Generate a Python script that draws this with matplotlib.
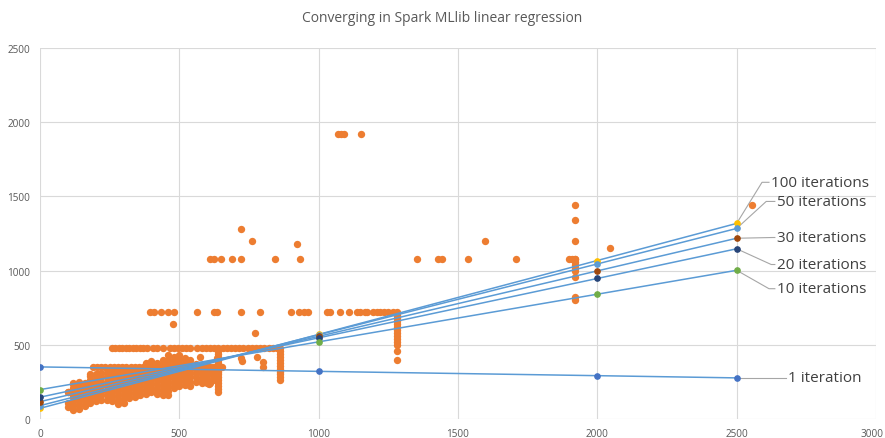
import numpy as np
import matplotlib
matplotlib.use("Agg")
import matplotlib.pyplot as plt
import matplotlib.transforms as mtransforms

plt.rcParams['font.family'] = ['Open Sans', 'DejaVu Sans']

# ---- model lines (predictions at a few x positions) ----
iter_x = [0, 1000, 2000, 2500]
iter_1 = [351, 321, 292, 277]
iter_10 = [198, 520, 841, 1002]
iter_20 = [147, 547, 947, 1147]
iter_30 = [117, 557, 998, 1218]
iter_50 = [90, 568, 1045, 1284]
iter_100 = [72, 570, 1068, 1318]

series_names = ["100 iterations", "50 iterations", "30 iterations",
                "20 iterations", "10 iterations", "1 iteration"]
series_vals = [iter_100, iter_50, iter_30, iter_20, iter_10, iter_1]
marker_cols = ["#FFC000", "#5B9BD5", "#9E480E", "#264478", "#70AD47", "#4472C4"]

# label positions (data coords) + leader elbow
label_pos = [(2624, 1595), (2645, 1466), (2645, 1223), (2645, 1041), (2645, 878), (2685, 277)]
elbow_pos = [(2591, 1595), (2606, 1466), (2630, 1223), (2624, 1041), (2616, 878), (2660, 277)]

# ---- training data (orange) ----
row_1920_x = [1070, 1080, 1090, 1152]
row_1080_x = [610, 625, 650, 689, 721, 843, 933, 1353, 1428, 1443, 1536, 1708, 1900, 1910, 1920]
row_720_x = [395, 410, 434, 459, 481, 563, 624, 635, 721, 790, 901, 930, 947, 962, 1030,
             1041, 1077, 1109, 1138, 1150, 1165, 1174, 1195, 1210, 1220, 1235, 1250, 1265, 1280]
row_480_x = [258, 270, 282, 295, 308, 320, 333, 345, 358, 370, 384, 405, 420, 441, 467, 480,
             495, 510, 525, 540, 565, 580, 595, 610, 625, 640, 655, 670, 685, 700, 715, 730,
             745, 760, 775, 790, 805, 820, 835, 850, 861]
row_350_x = [190, 205, 220, 235, 250, 265, 280, 295, 310, 325, 340, 355, 370, 385, 400, 415,
             430, 445, 460, 475, 490, 505, 520, 535, 550, 565, 580, 595, 610, 625, 640, 653]
col_1920_y = [1440, 1340, 1200, 1080, 1060, 1040, 1020, 1000, 960, 820, 800]
col_1280_y = [700, 680, 660, 640, 620, 600, 580, 560, 540, 520, 500, 460, 400]
col_861_y = [460, 440, 420, 400, 380, 360, 340, 320, 300, 280, 260]
col_639_y = [460, 440, 420, 400, 380, 360, 340, 320, 300, 280, 260, 240, 220, 200, 180]
loose_x = [721, 761, 922, 1597, 2046, 2555, 477, 771, 574, 635, 721, 725, 779, 800, 800,
           606, 610, 118, 179, 208, 100, 115]
loose_y = [1280, 1200, 1180, 1200, 1150, 1440, 640, 580, 420, 412, 412, 390, 420, 385, 351,
           236, 243, 236, 304, 304, 180, 176]

blob_cols = [100, 120, 140, 160, 180, 200, 220, 240, 260, 280, 300, 320, 340, 360,
             380, 400, 420, 440, 460, 480, 500, 520, 540, 560, 580, 600, 620]
blob_ys = [
    [80, 110, 180],
    [60, 90, 120, 150, 180, 210, 240],
    [70, 100, 130, 160, 190, 220, 250],
    [90, 120, 150, 180, 210, 240],
    [110, 140, 170, 200, 230, 260, 290],
    [120, 150, 180, 210, 240, 270, 300],
    [130, 160, 190, 220, 250, 280, 310],
    [130, 160, 190, 220, 250, 280, 310, 340],
    [120, 150, 180, 210, 240, 270, 300, 330],
    [100, 130, 160, 190, 220, 250, 280, 310, 340],
    [110, 140, 170, 200, 230, 260, 290, 320],
    [140, 170, 200, 230, 260, 290, 320],
    [150, 180, 210, 240, 270, 300, 330],
    [160, 190, 220, 250, 280, 310, 340],
    [170, 200, 230, 260, 290, 320, 350, 380],
    [180, 210, 240, 270, 300, 330, 360, 390],
    [170, 200, 230, 260, 290, 320, 350, 380],
    [160, 190, 220, 250, 280, 310, 340, 370, 400],
    [160, 190, 220, 250, 280, 310, 340, 370, 400, 430],
    [210, 240, 270, 300, 330, 360, 390, 420],
    [220, 250, 280, 310, 340, 370, 400, 430],
    [230, 260, 290, 320, 350, 380, 410],
    [220, 250, 280, 310, 340, 370, 400],
    [250, 280, 310, 340, 370],
    [240, 270, 300, 330, 360],
    [240, 270, 300, 330, 360],
    [260, 290, 320, 350],
]

# assemble orange points
pts_x, pts_y = [], []
for xs, yv in [(row_1920_x, 1920), (row_1080_x, 1080), (row_720_x, 720),
               (row_480_x, 480), (row_350_x, 350)]:
    pts_x += xs
    pts_y += [yv] * len(xs)
for xv, ys in [(1920, col_1920_y), (1280, col_1280_y), (861, col_861_y), (639, col_639_y)]:
    pts_x += [xv] * len(ys)
    pts_y += ys
pts_x += loose_x
pts_y += loose_y
for xv, ys in zip(blob_cols, blob_ys):
    pts_x += [xv] * len(ys)
    pts_y += ys

fig = plt.figure(figsize=(8.85, 4.39), dpi=100)
ax = fig.add_axes([40 / 885, 1 - 420 / 439, 836 / 885, 371 / 439])

ax.scatter(pts_x, pts_y, s=28, color="#ED7D31", linewidths=0, zorder=2)

for vals, col in zip(series_vals, marker_cols):
    ax.plot(iter_x, vals, color="#5B9BD5", lw=1.1, zorder=3)
for vals, col in zip(series_vals, marker_cols):
    ax.plot(iter_x, vals, ls="none", marker="o", ms=3.8, mfc=col, mec=col, zorder=4)

# data labels with leader lines
for name, vals, (lx, ly), (ex, ey) in zip(series_names, series_vals, label_pos, elbow_pos):
    ax.plot([iter_x[-1], ex, lx - 8], [vals[-1], ey, ly], color="#A6A6A6", lw=0.8,
            clip_on=False, zorder=1)
    ax.text(lx, ly, name, fontsize=11, color="#404040", va="center", ha="left",
            clip_on=False)

ax.set_xlim(0, 3000)
ax.set_ylim(0, 2500)
ax.set_xticks(np.arange(0, 3001, 500))
ax.set_yticks(np.arange(0, 2501, 500))
ax.grid(True, color="#D9D9D9", lw=0.8)
ax.set_axisbelow(True)
for sp in ax.spines.values():
    sp.set_visible(False)
ax.tick_params(length=0, labelsize=7.2, labelcolor="#595959")
ax.tick_params(axis="x", pad=6.5)
ax.tick_params(axis="y", pad=7)

# nudge the last x label so it stays inside the image
last = ax.get_xticklabels()[-1]
last.set_transform(last.get_transform() + mtransforms.ScaledTranslation(-4 / 100, 0, fig.dpi_scale_trans))

fig.text(442 / 885, 1 - 18 / 439, "Converging in Spark MLlib linear regression",
         ha="center", va="center", fontsize=10, color="#595959")

fig.savefig("out.png", dpi=100)
